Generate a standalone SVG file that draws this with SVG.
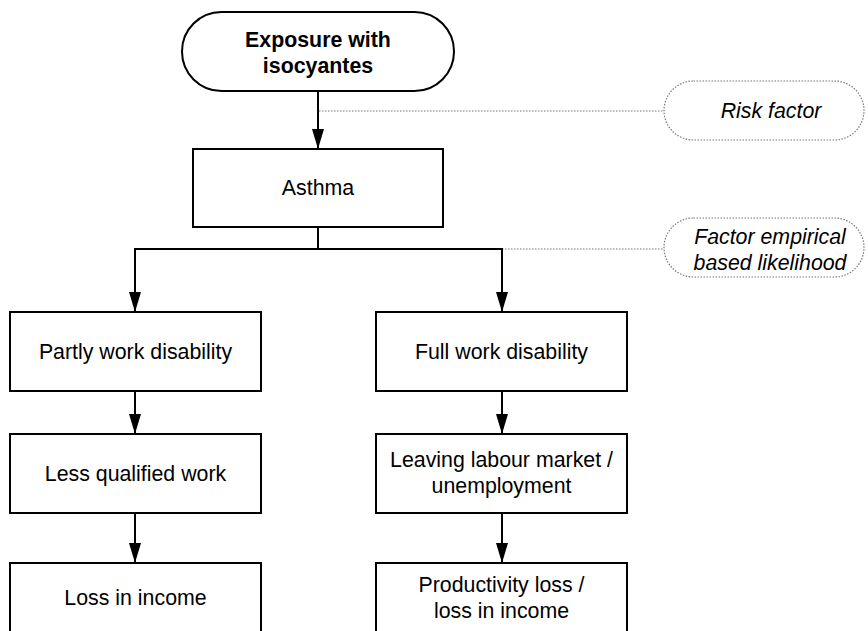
<svg xmlns="http://www.w3.org/2000/svg" width="868" height="631" viewBox="0 0 868 631">
<style>
.box{fill:#fff;stroke:#000;stroke-width:2}
.note{fill:#fff;stroke:#777;stroke-width:1.2;stroke-dasharray:1.5 1.5}
.t{font-family:"Liberation Sans",Arial,sans-serif;font-size:21.33px;fill:#000;text-anchor:middle}
.b{font-weight:bold}
.i{font-style:italic}
.c{fill:none;stroke:#000;stroke-width:2}
.d{fill:none;stroke:#777;stroke-width:1.2;stroke-dasharray:1.5 1.5}
</style>
<defs>
<marker id="ah" markerWidth="20" markerHeight="12" refX="20" refY="6" orient="auto" markerUnits="userSpaceOnUse" viewBox="0 0 20 12">
<path d="M0,0 L20,6 L0,12 Z" fill="#000"/>
</marker>
</defs>
<g id="connectors">
<line class="d" x1="319" y1="111" x2="663" y2="111"/>
<line class="d" x1="502" y1="249" x2="663" y2="249"/>
<line class="c" x1="318" y1="91" x2="318" y2="149" marker-end="url(#ah)"/>
<polyline class="c" points="318,227 318,249"/>
<polyline class="c" points="135,249 502,249"/>
<line class="c" x1="135" y1="248" x2="135" y2="312" marker-end="url(#ah)"/>
<line class="c" x1="502" y1="248" x2="502" y2="312" marker-end="url(#ah)"/>
<line class="c" x1="135" y1="391" x2="135" y2="434" marker-end="url(#ah)"/>
<line class="c" x1="502" y1="391" x2="502" y2="434" marker-end="url(#ah)"/>
<line class="c" x1="135" y1="513" x2="135" y2="563" marker-end="url(#ah)"/>
<line class="c" x1="502" y1="513" x2="502" y2="563" marker-end="url(#ah)"/>
</g>
<g id="exposure">
<rect class="box" x="182" y="12" width="272" height="79" rx="39.5"/>
<text class="t b" x="318" y="47">Exposure with</text>
<text class="t b" x="318" y="73">isocyantes</text>
</g>
<g id="riskfactor">
<rect class="note" x="664" y="81" width="200" height="59" rx="29.5"/>
<text class="t i" x="771" y="118">Risk factor</text>
</g>
<g id="asthma">
<rect class="box" x="193" y="149" width="250" height="78"/>
<text class="t" x="318" y="195">Asthma</text>
</g>
<g id="factor">
<rect class="note" x="664" y="218" width="200" height="59" rx="29.5"/>
<text class="t i" x="770" y="244">Factor empirical</text>
<text class="t i" x="770" y="270">based likelihood</text>
</g>
<g id="partly">
<rect class="box" x="10" y="312" width="251" height="79"/>
<text class="t" x="135.5" y="359">Partly work disability</text>
</g>
<g id="full">
<rect class="box" x="376" y="312" width="251" height="79"/>
<text class="t" x="501.5" y="359">Full work disability</text>
</g>
<g id="lessqualified">
<rect class="box" x="10" y="434" width="251" height="79"/>
<text class="t" x="135.5" y="481">Less qualified work</text>
</g>
<g id="leaving">
<rect class="box" x="376" y="434" width="251" height="79"/>
<text class="t" x="501.5" y="467">Leaving labour market /</text>
<text class="t" x="501.5" y="493">unemployment</text>
</g>
<g id="lossincome">
<rect class="box" x="10" y="563" width="251" height="79"/>
<text class="t" x="135.5" y="605">Loss in income</text>
</g>
<g id="productivity">
<rect class="box" x="376" y="563" width="251" height="79"/>
<text class="t" x="501.5" y="592">Productivity loss /</text>
<text class="t" x="501.5" y="618">loss in income</text>
</g>
</svg>
